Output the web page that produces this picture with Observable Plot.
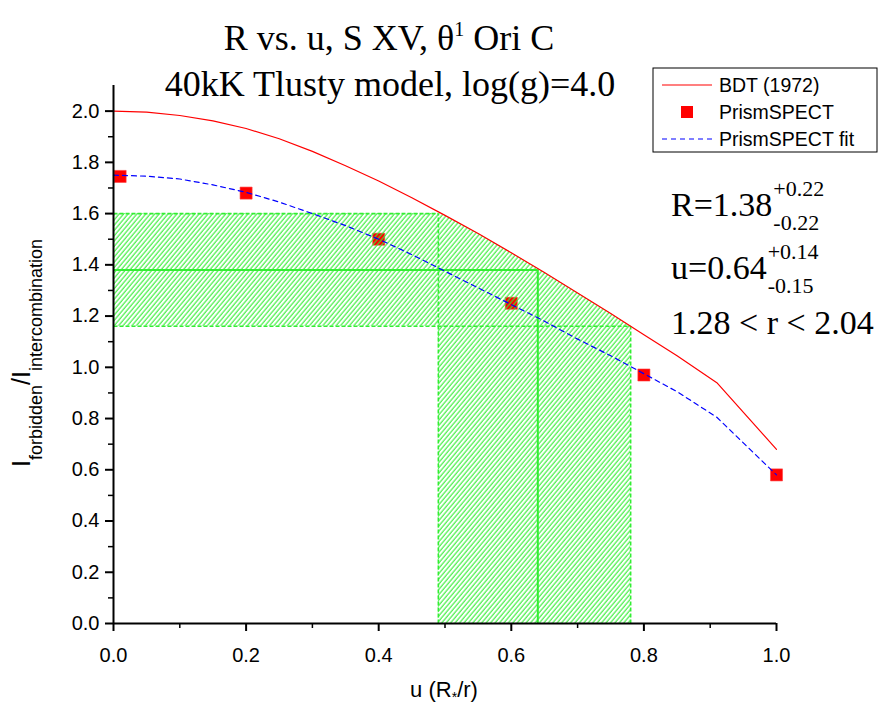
<!DOCTYPE html>
<html><head><meta charset="utf-8">
<script src="https://cdn.jsdelivr.net/npm/d3@7"></script>
<script src="https://cdn.jsdelivr.net/npm/@observablehq/plot@0.6"></script>
<style>body{margin:0;background:#fff} svg{display:block}</style>
</head><body><div id="chart"></div>
<script>
// ---- data ----
const bdtU  = [0, 0.05, 0.1, 0.15, 0.2, 0.25, 0.3, 0.35, 0.4, 0.45, 0.5, 0.55, 0.6, 0.65, 0.7, 0.75, 0.8, 0.85, 0.91, 1.0];
const bdtR  = [2.0, 1.996, 1.983, 1.962, 1.932, 1.892, 1.843, 1.787, 1.727, 1.662, 1.593, 1.522, 1.447, 1.37, 1.29, 1.21, 1.127, 1.045, 0.94, 0.68];
const fitU  = [0, 0.05, 0.1, 0.15, 0.2, 0.25, 0.3, 0.35, 0.4, 0.45, 0.5, 0.55, 0.6, 0.65, 0.7, 0.75, 0.8, 0.85, 0.91, 1.0];
const fitR  = [1.75, 1.746, 1.735, 1.712, 1.683, 1.645, 1.60, 1.553, 1.50, 1.44, 1.375, 1.31, 1.245, 1.18, 1.11, 1.045, 0.975, 0.905, 0.805, 0.58];
const prismU = [0.01, 0.2, 0.4, 0.6, 0.8, 1.0];
const prismR = [1.745, 1.68, 1.50, 1.25, 0.97, 0.58];
const seriesNames = ["BDT (1972)", "PrismSPECT", "PrismSPECT fit"];
const Rbest = 1.38, Rplus = 0.22, Rminus = 0.22;
const Ubest = 0.64, Uplus = 0.14, Uminus = 0.15;
const rRange = ["1.28", "2.04"];
const xMajor = [0, 0.2, 0.4, 0.6, 0.8, 1.0];
const xMinor = [0.1, 0.3, 0.5, 0.7, 0.9];
const yMajor = [0, 0.2, 0.4, 0.6, 0.8, 1.0, 1.2, 1.4, 1.6, 1.8, 2.0];
const yMinor = [0.1, 0.3, 0.5, 0.7, 0.9, 1.1, 1.3, 1.5, 1.7, 1.9];
const titleLines = ["R vs. u, S XV, θ", "1", " Ori C", "40kK Tlusty model, log(g)=4.0"];

const bdt = bdtU.map((u, i) => ({u, r: bdtR[i]}));
const fit = fitU.map((u, i) => ({u, r: fitR[i]}));
const prism = prismU.map((u, i) => ({u, r: prismR[i]}));

const uLo = +(Ubest - Uminus).toFixed(2), uHi = +(Ubest + Uplus).toFixed(2);
const rLo = +(Rbest - Rminus).toFixed(2), rHi = +(Rbest + Rplus).toFixed(2);
const hatch = [
  {x: 0, y1: rLo, y2: rHi},
  {x: uLo, y1: rLo, y2: rHi},
  {x: uLo, y1: 0, y2: rHi},
  ...bdt.filter(d => d.u > uLo && d.u < uHi).map(d => ({x: d.u, y1: 0, y2: d.r})),
  {x: uHi, y1: 0, y2: rLo}
];
const dashed = [
  {x1: 0, x2: uLo, y1: rHi, y2: rHi},
  {x1: 0, x2: uHi, y1: rLo, y2: rLo},
  {x1: uLo, x2: uLo, y1: 0, y2: rHi},
  {x1: uHi, x2: uHi, y1: 0, y2: rLo}
];
const solid = [
  {x1: 0, x2: Ubest, y1: Rbest, y2: Rbest},
  {x1: Ubest, x2: Ubest, y1: 0, y2: Rbest}
];
const green = "#33ee33";

const plot = Plot.plot({
  width: 884, height: 706,
  marginTop: 85, marginBottom: 83, marginLeft: 113, marginRight: 108,
  x: {domain: [0, 1]},
  y: {domain: [0, 2.1]},
  style: {fontFamily: "'Liberation Sans', Arial, sans-serif", fontSize: "20px", color: "#000", background: "#fff", overflow: "visible"},
  marks: [
    Plot.dot(prism, {x: "u", y: "r", symbol: "square", r: 6.8, fill: "#ff0000", stroke: "#ff4040", strokeWidth: 0.6}),
    Plot.area(hatch, {x1: "x", y1: "y1", y2: "y2", fill: "url(#hatch)", curve: "linear"}),
    Plot.link(dashed, {x1: "x1", x2: "x2", y1: "y1", y2: "y2", stroke: green, strokeWidth: 1.6, strokeDasharray: "4,2"}),
    Plot.link(solid, {x1: "x1", x2: "x2", y1: "y1", y2: "y2", stroke: green, strokeWidth: 2}),
    Plot.line(fit, {x: "u", y: "r", stroke: "#0000ff", strokeWidth: 1.2, strokeDasharray: "5,4"}),
    Plot.line(bdt, {x: "u", y: "r", stroke: "#ff0000", strokeWidth: 1.2}),
    Plot.ruleX([0], {y1: 0, y2: 2.1, stroke: "#000", strokeWidth: 2}),
    Plot.ruleY([0], {x1: 0, x2: 1, stroke: "#000", strokeWidth: 2}),
    Plot.axisX({ticks: xMajor, tickFormat: d3.format(".1f"), tickSize: 8, tickPadding: 16, strokeWidth: 2, fontSize: 20, label: null}),
    Plot.axisX({ticks: xMinor, tickFormat: () => "", tickSize: 5, strokeWidth: 1.5, label: null}),
    Plot.axisY({ticks: yMajor, tickFormat: d3.format(".1f"), tickSize: 8, tickPadding: 6, strokeWidth: 2, fontSize: 20, label: null}),
    Plot.axisY({ticks: yMinor, tickFormat: () => "", tickSize: 5, strokeWidth: 1.5, label: null})
  ]
});
document.getElementById("chart").appendChild(plot);

const svg = d3.select(plot);
const defs = svg.insert("defs", ":first-child");
const pat = defs.append("pattern").attr("id", "hatch").attr("patternUnits", "userSpaceOnUse")
  .attr("width", 3.4).attr("height", 10).attr("patternTransform", "rotate(40)");
pat.append("line").attr("x1", 1).attr("y1", 0).attr("x2", 1).attr("y2", 10)
  .attr("stroke", green).attr("stroke-width", 1.1);

const serif = "'Liberation Serif', 'Times New Roman', serif";
const sans = "'Liberation Sans', Arial, sans-serif";

// Title
const t1 = svg.append("text").attr("x", 389).attr("y", 50).attr("text-anchor", "middle")
  .attr("font-family", serif).attr("font-size", 36).attr("fill", "#000");
t1.append("tspan").text(titleLines[0]);
t1.append("tspan").attr("dy", -14).attr("font-size", 20).text(titleLines[1]);
t1.append("tspan").attr("dy", 14).text(titleLines[2]);
svg.append("text").attr("x", 390).attr("y", 96).attr("text-anchor", "middle")
  .attr("font-family", serif).attr("font-size", 36).attr("fill", "#000").text(titleLines[3]);

// Legend
const lg = svg.append("g").attr("text-anchor", "start");
lg.append("rect").attr("x", 653).attr("y", 68).attr("width", 224).attr("height", 84)
  .attr("fill", "#fff").attr("stroke", "#000").attr("stroke-width", 1);
const rows = [85, 112, 139];
lg.append("line").attr("x1", 662).attr("x2", 712).attr("y1", rows[0]).attr("y2", rows[0]).attr("stroke", "#ff0000").attr("stroke-width", 1.2);
lg.append("rect").attr("x", 681).attr("y", rows[1] - 6).attr("width", 12).attr("height", 12).attr("fill", "#ff0000");
lg.append("line").attr("x1", 662).attr("x2", 712).attr("y1", rows[2]).attr("y2", rows[2]).attr("stroke", "#0000ff").attr("stroke-width", 1.2).attr("stroke-dasharray", "5,4");
seriesNames.forEach((s, i) => lg.append("text").attr("x", 719).attr("y", rows[i] + 7).attr("text-anchor", "start")
  .attr("font-family", sans).attr("font-size", 19.5).attr("fill", "#000").text(s));

// Annotations
function supsub(x, y, main, sup, sub) {
  const m = svg.append("text").attr("x", x).attr("y", y).attr("text-anchor", "start").attr("font-family", serif).attr("font-size", 34).attr("fill", "#000").text(main);
  const w = m.node().getComputedTextLength();
  svg.append("text").attr("x", x + w + 1).attr("y", y - 20).attr("text-anchor", "start").attr("font-family", serif).attr("font-size", 22).attr("fill", "#000").text(sup);
  svg.append("text").attr("x", x + w + 1).attr("y", y + 14).attr("text-anchor", "start").attr("font-family", serif).attr("font-size", 22).attr("fill", "#000").text(sub);
}
supsub(671, 216, "R=" + Rbest.toFixed(2), "+" + Rplus.toFixed(2), "-" + Rminus.toFixed(2));
supsub(671, 279, "u=" + Ubest.toFixed(2), "+" + Uplus.toFixed(2), "-" + Uminus.toFixed(2));
svg.append("text").attr("x", 671).attr("y", 334).attr("text-anchor", "start").attr("font-family", serif).attr("font-size", 34).attr("fill", "#000")
  .text(rRange[0] + " < r < " + rRange[1]);

// Axis titles
const xl = svg.append("text").attr("x", 444).attr("y", 697).attr("text-anchor", "middle")
  .attr("font-family", sans).attr("font-size", 22).attr("fill", "#000");
xl.append("tspan").text("u (R");
xl.append("tspan").attr("dy", 5).attr("font-size", 14).text("*");
xl.append("tspan").attr("dy", -5).text("/r)");

const yl = svg.append("text").attr("transform", "translate(30,353) rotate(-90)").attr("text-anchor", "middle")
  .attr("font-family", sans).attr("font-size", 25).attr("fill", "#000");
yl.append("tspan").text("I");
yl.append("tspan").attr("dy", 12).attr("font-size", 18).text("forbidden");
yl.append("tspan").attr("dy", -12).text("/I");
yl.append("tspan").attr("dy", 12).attr("font-size", 18).text("intercombination");
</script></body></html>
